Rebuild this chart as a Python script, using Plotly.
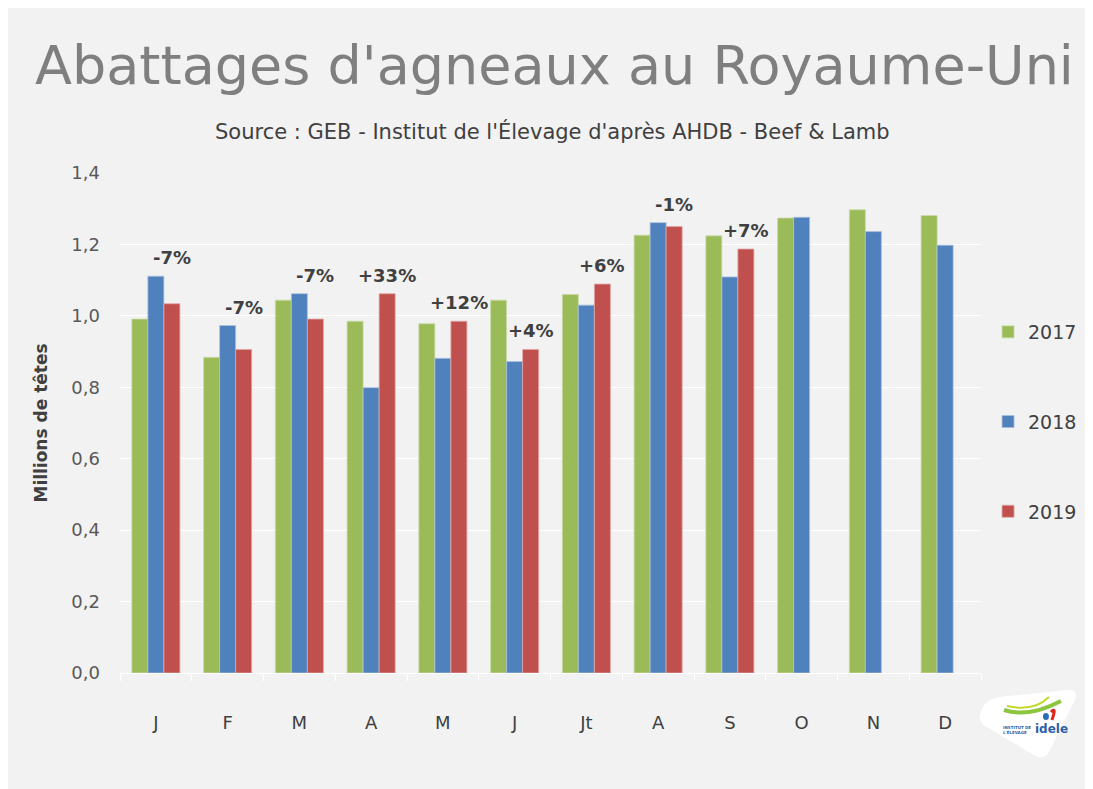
import plotly.graph_objects as go

months = ["J", "F", "M", "A", "M", "J", "Jt", "A", "S", "O", "N", "D"]
y2017 = [0.991, 0.884, 1.044, 0.985, 0.978, 1.044, 1.060, 1.226, 1.224, 1.274, 1.297, 1.281]
y2018 = [1.111, 0.973, 1.062, 0.799, 0.881, 0.872, 1.030, 1.261, 1.109, 1.276, 1.236, 1.198]
y2019 = [1.034, 0.906, 0.991, 1.062, 0.985, 0.906, 1.089, 1.250, 1.187, None, None, None]
variations = ["-7%", "-7%", "-7%", "+33%", "+12%", "+4%", "+6%", "-1%", "+7%", None, None, None]
yticks = [0.0, 0.2, 0.4, 0.6, 0.8, 1.0, 1.2, 1.4]
ytick_text = ["0,0", "0,2", "0,4", "0,6", "0,8", "1,0", "1,2", "1,4"]

FONT = "DejaVu Sans"
x = list(range(len(months)))
bargap = 0.33
bar_w = (1 - bargap) / 3

# page-pixel -> paper helpers (plot area on page: x 120..982, y 173..673)
def px(X):
    return (X - 120) / 862.0

def py(Y):
    return (673 - Y) / 500.0

fig = go.Figure()
for name, vals, col, line in [("2017", y2017, "#9bbb59", "#c9dba8"),
                              ("2018", y2018, "#4f81bd", "#a9c0de"),
                              ("2019", y2019, "#c0504d", "#dfa6a4")]:
    fig.add_trace(go.Bar(x=x, y=vals, name=name, legendgroup=name,
                         marker=dict(color=col, line=dict(color=line, width=0.8))))

annotations = []
for i, t in enumerate(variations):
    if t is None:
        continue
    top = max(v for v in (y2018[i], y2019[i]) if v is not None)
    annotations.append(dict(x=i + bar_w, y=top, xref="x", yref="y", text=t,
                            showarrow=False, yanchor="bottom", yshift=6,
                            font=dict(family=FONT, size=18, color="#404040", weight="bold")))

annotations.append(dict(x=px(555), y=py(65), xref="paper", yref="paper",
                        text="Abattages d'agneaux au Royaume-Uni", showarrow=False,
                        xanchor="center", yanchor="middle",
                        font=dict(family=FONT, size=54, color="#7f7f7f")))
annotations.append(dict(x=px(553), y=py(132), xref="paper", yref="paper",
                        text="Source : GEB - Institut de l'Élevage d'après AHDB - Beef &amp; Lamb",
                        showarrow=False, xanchor="center", yanchor="middle",
                        font=dict(family=FONT, size=21, color="#404040")))
# logo texts
annotations.append(dict(x=px(1053), y=py(729), xref="paper", yref="paper",
                        text="<b>idele</b>", showarrow=False, xanchor="center", yanchor="middle",
                        font=dict(family=FONT, size=12, color="#2d5fa8")))
annotations.append(dict(x=px(1018), y=py(730), xref="paper", yref="paper",
                        text="<b>INSTITUT DE<br>L'ÉLEVAGE</b>", showarrow=False,
                        xanchor="center", yanchor="middle", align="left",
                        font=dict(family=FONT, size=4, color="#2d5fa8")))

def P(X, Y):
    return "{:.5f},{:.5f}".format(px(X), py(Y))

logo_path = ("M " + P(982, 712) + " Q " + P(985, 700) + " " + P(1000, 697) +
             " L " + P(1068, 690) + " Q " + P(1080, 689) + " " + P(1076, 700) +
             " L " + P(1050, 752) + " Q " + P(1045, 761) + " " + P(1035, 755) +
             " L " + P(986, 726) + " Q " + P(978, 720) + " " + P(982, 712) + " Z")
swoosh1 = "M " + P(1005, 710) + " Q " + P(1030, 718) + " " + P(1062, 701)
swoosh2 = "M " + P(1008, 706) + " Q " + P(1035, 712) + " " + P(1050, 697)

shapes = [
    dict(type="path", xref="paper", yref="paper", path=logo_path,
         fillcolor="#ffffff", line=dict(width=0), layer="below"),
    dict(type="path", xref="paper", yref="paper", path=swoosh1,
         line=dict(color="#8cc63f", width=4)),
    dict(type="path", xref="paper", yref="paper", path=swoosh2,
         line=dict(color="#c2d92e", width=2)),
    dict(type="path", xref="paper", yref="paper",
         path="M " + P(1052, 712) + " Q " + P(1058, 706) + " " + P(1053, 720),
         line=dict(color="#e2231a", width=3)),
    dict(type="circle", xref="paper", yref="paper",
         x0=px(1044), x1=px(1050), y0=py(720), y1=py(713),
         fillcolor="#2d6db5", line=dict(width=0)),
]

fig.update_layout(
    width=1085, height=781,
    paper_bgcolor="#f2f2f2", plot_bgcolor="#f2f2f2",
    margin=dict(l=112, r=111, t=165, b=116),
    barmode="group", bargap=bargap, bargroupgap=0,
    annotations=annotations, shapes=shapes,
    showlegend=True,
    legend=dict(x=1.007, y=0.72, xanchor="left", yanchor="top", bgcolor="rgba(0,0,0,0)",
                tracegroupgap=62, font=dict(family=FONT, size=19, color="#404040"),
                itemwidth=30),
    font=dict(family=FONT),
)
fig.update_xaxes(tickvals=x, ticktext=months, range=[-0.5, 11.5],
                 tickfont=dict(family=FONT, size=18, color="#404040"),
                 showline=True, linecolor="#ffffff", linewidth=1,
                 showgrid=False, ticks="", ticklabelstandoff=33,
                 minor=dict(tickvals=[i - 0.5 for i in range(13)], ticks="outside",
                            ticklen=7, tickcolor="#ffffff", tickwidth=1, showgrid=False))
fig.update_yaxes(range=[0, 1.4], tickvals=yticks, ticktext=ytick_text,
                 tickfont=dict(family=FONT, size=18, color="#595959"),
                 showgrid=True, gridcolor="#ffffff", gridwidth=1, zeroline=False,
                 title=dict(text="<b>Millions de têtes</b>", standoff=19,
                            font=dict(family=FONT, size=17, color="#404040")),
                 ticklabelstandoff=19)

fig.write_html("out.html")
